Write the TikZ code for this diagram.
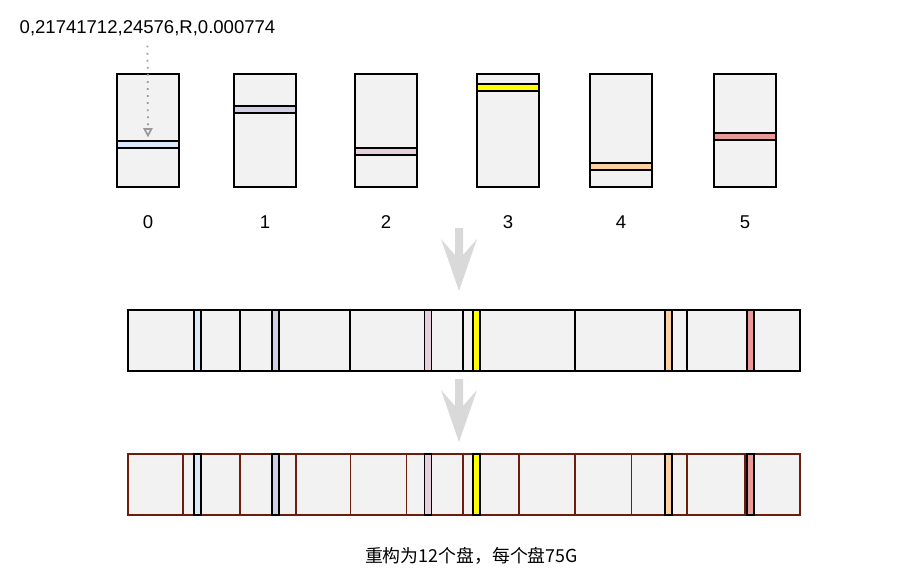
\documentclass[tikz,border=0pt]{standalone}
\usepackage{fontspec}
\setmainfont{Liberation Sans}
\newfontfamily\cjk{Noto Sans CJK SC}
\usepackage{tikz}
\usetikzlibrary{arrows.meta}
\definecolor{diskgray}{HTML}{F2F2F2}
\definecolor{arrowgray}{HTML}{D9D9D9}
\definecolor{traceline}{HTML}{999999}
\definecolor{newdisk}{HTML}{6B1D0E}
\definecolor{cA}{HTML}{DAE8FC}
\definecolor{cB}{HTML}{D0CEE2}
\definecolor{cC}{HTML}{E6D0DE}
\definecolor{cD}{HTML}{FFFF00}
\definecolor{cE}{HTML}{FAD0A0}
\definecolor{cF}{HTML}{EA9999}
\tikzset{bigarrow/.pic={\fill[arrowgray] (-4,0) -- (4,0) -- (4,27) -- (18,11) -- (0,63) -- (-18,11) -- (-4,27) -- cycle;}}

\begin{document}
\begin{tikzpicture}[x=0.75pt,y=-0.75pt,>=stealth,font=\fontsize{13.9}{16}\selectfont]
\tikzstyle{disk}=[rectangle,draw,fill=diskgray,line width=1.2pt,minimum width=46.5pt,minimum height=84.75pt,inner sep=0pt]
\tikzstyle{hstripe}=[rectangle,draw,line width=1.4pt,minimum width=46.5pt,minimum height=5.25pt,inner sep=0pt]
\tikzstyle{vstripe}=[rectangle,draw,line width=1.3pt,minimum width=5.25pt,minimum height=45.75pt,inner sep=0pt]
\tikzstyle{seg}=[draw,fill=diskgray,line width=1pt]
\useasboundingbox (0,0) rectangle (900,583);
% original six disks with one stripe each
\foreach \x/\y/\c [count=\i from 0] in {148/144.5/cA,265/109.5/cB,386/151.5/cC,508/87.5/cD,621/166.5/cE,745/136.5/cF}{
  \node[disk] (d\i) at (\x,130.5) {};
  \node[hstripe,fill=\c] (s\i) at (\x,\y) {};
  \node (n\i) at (\x,222) {\i};
}
\node (trace) at (147.5,28) {0,21741712,24576,R,0.000774};
\draw[traceline,line width=1.3pt,dash pattern=on 1.3pt off 4pt,-{Triangle[open,length=7pt,width=7pt,sep=0pt]},shorten <=4pt,shorten >=2pt] (trace.south) -- (s0.north);
\pic at (459,228) {bigarrow};
% striped onto one big volume
\foreach \l/\r in {128/240,240/350,350/463,463/575,575/687,687/800}
  \draw[seg] (\l,310) rectangle (\r,371);
\draw[line width=1.2pt] (128,310) rectangle (800,371);
\foreach \x/\c [count=\i from 0] in {197.5/cA,275.5/cB,428/cC,476.5/cD,668.5/cE,750.5/cF}
  \node[vstripe,fill=\c] (m\i) at (\x,340.5) {};
\pic at (459,379) {bigarrow};
% rebuilt as twelve disks
\foreach \l/\r in {128/183,183/240,240/296,296/350.7,350.7/406.7,406.7/463,463/519,519/575,575/631.7,631.7/687,687/745,745/800}
  \draw[seg,draw=newdisk] (\l,454) rectangle (\r,515);
\draw[newdisk,line width=1.2pt] (128,454) rectangle (800,515);
\foreach \x/\c [count=\i from 0] in {197.5/cA,275.5/cB,428/cC,476.5/cD,668.5/cE,750.5/cF}
  \node[vstripe,fill=\c] (b\i) at (\x,484.5) {};
\node[font=\fontsize{13.4}{16}\selectfont] (caption) at (471.5,556) {\cjk 重构为12个盘，每个盘75G};
\end{tikzpicture}
\end{document}
